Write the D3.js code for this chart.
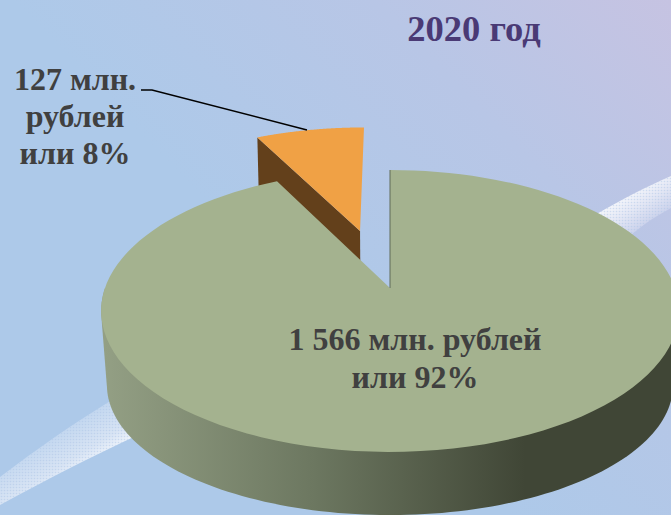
<!DOCTYPE html>
<html>
<head>
<meta charset="utf-8">
<script src="https://cdn.jsdelivr.net/npm/d3@7"></script>
<style>
  html, body { margin: 0; padding: 0; background: #adc9e9; overflow: hidden; }
  text { font-family: "Liberation Serif", serif; font-weight: bold; }
</style>
</head>
<body>
<div id="chart"></div>
<script>
// values
var categories = ["other", "main"];
var amounts = [1566, 127];
var sliceColors = ["#a4b28f", "#f0a145"];
var titleText = "2020 год";
var mainLabel = ["1 566 млн. рублей", "или 92%"];
var smallLabel = ["127 млн.", "рублей", "или 8%"];

var svgWidth = 671;
var svgHeight = 515;

var svg = d3.select("#chart")
  .append("svg")
  .attr("width", svgWidth)
  .attr("height", svgHeight)
  .style("display", "block");

var defs = svg.append("defs");

function addGradient(id, x1, y1, x2, y2, stops) {
  var g = defs.append("linearGradient")
    .attr("id", id)
    .attr("gradientUnits", "userSpaceOnUse")
    .attr("x1", x1).attr("y1", y1)
    .attr("x2", x2).attr("y2", y2);
  stops.forEach(s => {
    g.append("stop")
      .attr("offset", s[0])
      .attr("stop-color", s[1])
      .attr("stop-opacity", s[2] === undefined ? 1 : s[2]);
  });
}

addGradient("bg", 330, 330, 671, 0, [[0, "#adc9e9"], [0.55, "#b8c6e6"], [1, "#c6c3e2"]]);
addGradient("wall", 105, 0, 525, 0, [[0, "#939f84"], [0.5, "#6c7760"], [1, "#404636"]]);
// ribbon is brightest along its lower edge
addGradient("ribbonL", 50, 440, 75, 480, [[0, "#c4d8f0"], [0.6, "#d8e4f4"], [1, "#f6f9fd"]]);
addGradient("ribbonR", 625, 195, 645, 225, [[0, "#f4f6fb"], [0.5, "#e2e6f4"], [1, "#ccd3ec"]]);

var dots = defs.append("pattern")
  .attr("id", "dots")
  .attr("patternUnits", "userSpaceOnUse")
  .attr("width", 3)
  .attr("height", 3);
dots.append("circle")
  .attr("cx", 1.5).attr("cy", 1.5).attr("r", 0.8)
  .attr("fill", "#a9c2e4")
  .attr("opacity", 0.45);

svg.append("rect")
  .attr("width", svgWidth)
  .attr("height", svgHeight)
  .attr("fill", "url(#bg)");

// white ribbon behind the pie
var ribbon = d3.line().curve(d3.curveMonotoneX);
function band(upper, lower) {
  return ribbon(upper) + ribbon(lower.slice().reverse()).replace("M", "L") + "Z";
}
var ribbonLeft = band([[0, 477], [55, 437], [115, 398]], [[0, 505], [70, 468], [140, 434]]);
var ribbonRight = band([[595, 215], [635, 193], [671, 176]], [[625, 240], [645, 224], [671, 208]]);

[[ribbonLeft, "url(#ribbonL)"], [ribbonRight, "url(#ribbonR)"]].forEach(r => {
  svg.append("path").attr("d", r[0]).attr("fill", r[1]);
  svg.append("path").attr("d", r[0]).attr("fill", "url(#dots)");
});

// perspective projection of the disc: a, b in disc units, h = 0 top face, 1 bottom face
var apexX = 390, apexY = 288;
var radiusX = 285, radiusY = 137.2, thickness = 78, squash = 0.15;
var persp = 0.163, shrink = 0.02;

function project(a, b, h) {
  var d = 1 - persp * b + shrink * h;
  return [apexX + radiusX * a / d, apexY + (radiusY * (1 - squash * h) * b + thickness * h) / d];
}

var pie = d3.pie().sort(null).startAngle(0).endAngle(2 * Math.PI);
var slices = pie(amounts);

function rim(start, end, offA, offB, h) {
  var n = 120;
  return d3.range(n + 1).map(i => {
    var t = start + (end - start) * i / n;
    return project(offA + Math.sin(t), offB - Math.cos(t), h);
  });
}

var polygon = d3.line();

// small slice pulled away from the centre
var small = slices[1];
var mid = (small.startAngle + small.endAngle) / 2 - 0.012;
var pull = 0.46;
var pullA = Math.sin(mid) * pull, pullB = -Math.cos(mid) * pull;

var s0 = small.startAngle, s1 = small.endAngle;
svg.append("path")
  .attr("d", polygon([
    project(pullA, pullB, 0),
    project(pullA + Math.sin(s0), pullB - Math.cos(s0), 0),
    project(pullA + Math.sin(s0), pullB - Math.cos(s0), 1),
    project(pullA, pullB, 1)
  ]) + "Z")
  .attr("fill", "#63401b");
svg.append("path")
  .attr("d", polygon([project(pullA, pullB, 0)].concat(rim(s0, s1, pullA, pullB, 0))) + "Z")
  .attr("fill", sliceColors[1]);

// big slice: wall from the hull of the front half of both rims, then top face
var big = slices[0];
var topRim = rim(big.startAngle, big.endAngle, 0, 0, 0);
var frontTop = rim(Math.PI * 0.5, Math.PI * 1.5, 0, 0, 0);
var frontBottom = rim(Math.PI * 0.5, Math.PI * 1.5, 0, 0, 1);

svg.append("path")
  .attr("d", polygon(d3.polygonHull(frontTop.concat(frontBottom))) + "Z")
  .attr("fill", "url(#wall)");
svg.append("path")
  .attr("d", polygon([project(0, 0, 0)].concat(topRim)) + "Z")
  .attr("fill", sliceColors[0]);
svg.append("path")
  .attr("d", polygon([project(0, 0, 0), topRim[0]]))
  .attr("fill", "none")
  .attr("stroke", "#5f6a58")
  .attr("stroke-width", 1);

// leader line
svg.append("path")
  .attr("d", polygon([[141, 90], [152, 90], [307, 130]]))
  .attr("fill", "none")
  .attr("stroke", "#000")
  .attr("stroke-width", 1.5);

function addLines(lines, x, ys, size, color) {
  svg.selectAll(null)
    .data(lines)
    .enter()
    .append("text")
    .attr("x", x)
    .attr("y", (d, i) => ys[i])
    .attr("text-anchor", "middle")
    .attr("font-size", size)
    .attr("fill", color)
    .text(d => d);
}

addLines([titleText], 474, [41], 36.5, "#4a3a75");
addLines(smallLabel, 75, [90, 127, 164], 32, "#404040");
addLines(mainLabel, 415, [350, 388], 32, "#404040");
</script>
</body>
</html>
